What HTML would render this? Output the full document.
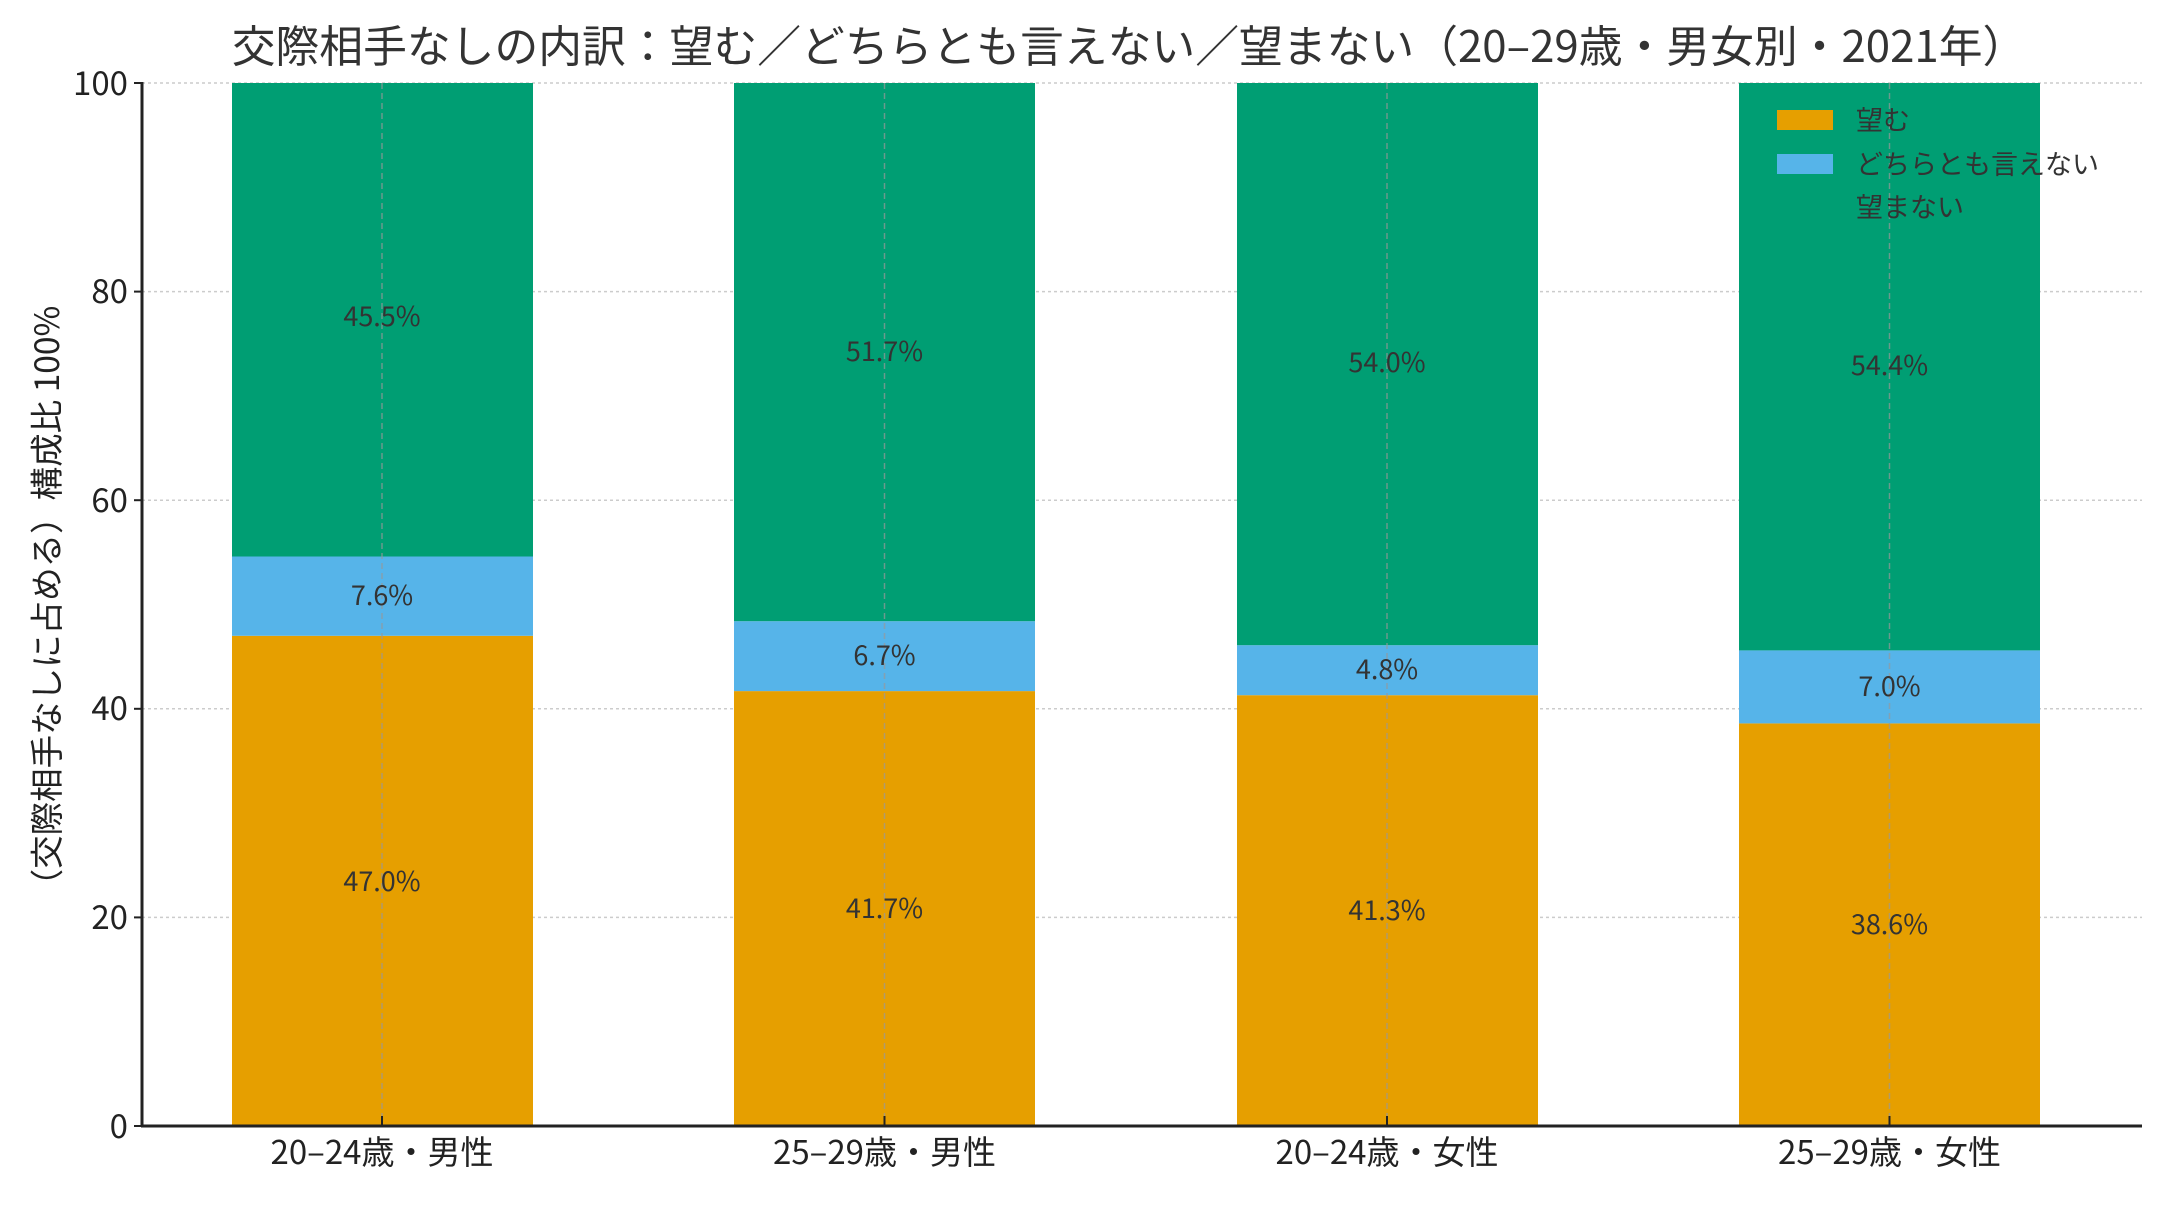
<!DOCTYPE html>
<html><head><meta charset="utf-8"><style>
html,body{margin:0;padding:0;background:#fff;}
svg text{font-family:"Noto Sans CJK JP","Liberation Sans",sans-serif;}
</style></head><body>
<svg width="2160" height="1200" viewBox="0 0 2160 1200" xmlns="http://www.w3.org/2000/svg">
<rect width="2160" height="1200" fill="#fff"/>
<text x="1129" y="62" text-anchor="middle" font-size="43.8" fill="#333">交際相手なしの内訳：望む／どちらとも言えない／望まない（20–29歳・男女別・2021年）</text>
<g stroke="#ccc" stroke-width="1.5" stroke-dasharray="3,3">
<line x1="142" x2="2142" y1="83" y2="83"/>
<line x1="142" x2="2142" y1="291.6" y2="291.6"/>
<line x1="142" x2="2142" y1="500.2" y2="500.2"/>
<line x1="142" x2="2142" y1="708.8" y2="708.8"/>
<line x1="142" x2="2142" y1="917.4" y2="917.4"/>
</g>
<g>
<rect x="232" y="635.8" width="301" height="490.2" fill="#E69F00"/>
<rect x="232" y="556.5" width="301" height="79.3" fill="#56B4E9"/>
<rect x="232" y="83" width="301" height="473.5" fill="#009E73"/>
<rect x="734" y="691.1" width="301" height="434.9" fill="#E69F00"/>
<rect x="734" y="621.2" width="301" height="69.9" fill="#56B4E9"/>
<rect x="734" y="83" width="301" height="538.2" fill="#009E73"/>
<rect x="1237" y="695.2" width="301" height="430.8" fill="#E69F00"/>
<rect x="1237" y="645.2" width="301" height="50" fill="#56B4E9"/>
<rect x="1237" y="83" width="301" height="562.2" fill="#009E73"/>
<rect x="1739" y="723.4" width="301" height="402.6" fill="#E69F00"/>
<rect x="1739" y="650.4" width="301" height="73" fill="#56B4E9"/>
<rect x="1739" y="83" width="301" height="567.4" fill="#009E73"/>
</g>
<g stroke="#999" stroke-opacity="0.7" stroke-width="1.5" stroke-dasharray="6,4">
<line x1="382" x2="382" y1="83" y2="1126"/>
<line x1="884.5" x2="884.5" y1="83" y2="1126"/>
<line x1="1387" x2="1387" y1="83" y2="1126"/>
<line x1="1889.5" x2="1889.5" y1="83" y2="1126"/>
</g>
<g font-size="27" fill="#333" text-anchor="middle">
<text x="382" y="891">47.0%</text>
<text x="382" y="605">7.6%</text>
<text x="382" y="326">45.5%</text>
<text x="884.5" y="918">41.7%</text>
<text x="884.5" y="665">6.7%</text>
<text x="884.5" y="361">51.7%</text>
<text x="1387" y="920">41.3%</text>
<text x="1387" y="679">4.8%</text>
<text x="1387" y="372">54.0%</text>
<text x="1889.5" y="934">38.6%</text>
<text x="1889.5" y="696">7.0%</text>
<text x="1889.5" y="375">54.4%</text>
</g>
<g stroke="#222" stroke-width="3" fill="none">
<line x1="142" y1="82" x2="142" y2="1127"/>
<line x1="141" y1="1126" x2="2142" y2="1126"/>
</g>
<g stroke="#222" stroke-width="2">
<line x1="134" x2="142" y1="83" y2="83"/><line x1="134" x2="142" y1="291.6" y2="291.6"/>
<line x1="134" x2="142" y1="500.2" y2="500.2"/><line x1="134" x2="142" y1="708.8" y2="708.8"/>
<line x1="134" x2="142" y1="917.4" y2="917.4"/><line x1="134" x2="142" y1="1126" y2="1126"/>
<line x1="382" x2="382" y1="1126" y2="1116"/><line x1="884.5" x2="884.5" y1="1126" y2="1116"/>
<line x1="1387" x2="1387" y1="1126" y2="1116"/><line x1="1889.5" x2="1889.5" y1="1126" y2="1116"/>
</g>
<g font-size="33" fill="#222" text-anchor="end">
<text x="128" y="95">100</text><text x="128" y="303">80</text><text x="128" y="512">60</text>
<text x="128" y="720">40</text><text x="128" y="929">20</text><text x="128" y="1138">0</text>
</g>
<g font-size="33" fill="#222" text-anchor="middle">
<text x="382" y="1164">20–24歳・男性</text>
<text x="884.5" y="1164">25–29歳・男性</text>
<text x="1387" y="1164">20–24歳・女性</text>
<text x="1889.5" y="1164">25–29歳・女性</text>
</g>
<text transform="translate(59,604) rotate(-90)" font-size="33.5" fill="#222" text-anchor="middle">（交際相手なしに占める）構成比 100%</text>
<rect x="1777" y="110" width="56" height="20" fill="#E69F00"/>
<rect x="1777" y="154" width="56" height="20" fill="#56B4E9"/>
<g font-size="27" fill="#333">
<text x="1856" y="130">望む</text>
<text x="1856" y="174">どちらとも言えない</text>
<text x="1856" y="217">望まない</text>
</g>
</svg>
</body></html>
